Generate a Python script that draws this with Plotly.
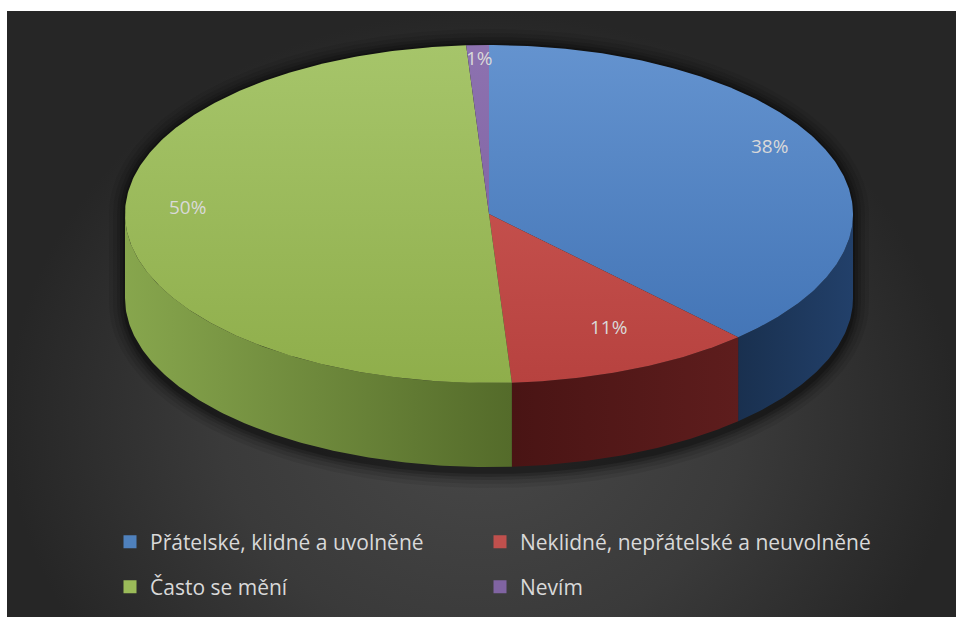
import numpy as np
import plotly.graph_objects as go

# ---- data ----
categories = ["Přátelské, klidné a uvolněné",
              "Neklidné, nepřátelské a neuvolněné",
              "Často se mění",
              "Nevím"]
values = [38, 11, 50, 1]

# face colours per slice: top (light, dark), side wall (light, dark), legend swatch
top_colors = [("#6493cf", "#3f71b3"), ("#d05c58", "#b7423f"),
              ("#a6c56a", "#8fae4b"), ("#8d72b0", "#7a5c9c")]
side_colors = [("#22406a", "#19304f"), ("#5e1d1d", "#491414"),
               ("#87a64d", "#546b2a"), ("#4a3560", "#3a2a4c")]
swatch_colors = ["#4f81bd", "#c0504d", "#9bbb59", "#8064a2"]
text_color = "#d9d9d9"
font_family = "'Open Sans', 'Noto Sans', sans-serif"

W, H = 956, 617

# ---- projected disc geometry (screen pixels, y grows downward) ----
CX, CY, RX, RY, DEPTH = 489.0, 214.0, 364.0, 169.0, 84.0


def rim(theta_deg, r=1.0, dz=0.0, grow=0.0):
    t = np.radians(theta_deg)
    x = CX + (RX * r + grow) * np.sin(t)
    y = CY - (RY * r + grow) * np.cos(t) + dz
    return x, y


def arc(t0, t1, dz=0.0, grow=0.0, n=None):
    if n is None:
        n = max(4, int(abs(t1 - t0) * 1.5))
    th = np.linspace(t0, t1, n)
    return rim(th, dz=dz, grow=grow)


total = float(sum(values))
shares = [v / total for v in values]
bounds = np.concatenate([[0.0], np.cumsum(shares) * 360.0])

fig = go.Figure()

# background panel with a soft radial light
fig.add_trace(go.Scatter(
    x=[7, W, W, 7, 7], y=[11, 11, H + 210, H + 210, 11],
    mode="lines", line=dict(width=0), fill="toself",
    fillgradient=dict(type="radial",
                      colorscale=[[0, "#484848"], [0.55, "#3a3a3a"], [1, "#262626"]]),
    hoverinfo="skip", showlegend=False))

# soft drop shadow under the disc
for k, op in [(16, 0.07), (12, 0.09), (8, 0.12), (5, 0.16), (2, 0.22)]:
    bx, by = arc(270, 450, dz=0, grow=k)
    fx, fy = arc(90, 270, dz=DEPTH + 5, grow=k)
    fig.add_trace(go.Scatter(
        x=np.concatenate([bx, fx]), y=np.concatenate([by, fy]),
        mode="lines", line=dict(width=0), fill="toself",
        fillcolor=f"rgba(0,0,0,{op})", hoverinfo="skip", showlegend=False))

# outer walls of the slices facing the viewer (90..270 degrees)
for i in range(len(values)):
    lo, hi = max(bounds[i], 90.0), min(bounds[i + 1], 270.0)
    if hi <= lo:
        continue
    tx, ty = arc(lo, hi)
    bx, by = arc(hi, lo, dz=DEPTH)
    c_light, c_dark = side_colors[i]
    # walls on the left half get darker towards the front, on the right half lighter
    if (lo + hi) / 2 > 180:
        scale = [[0, c_light], [1, c_dark]]
    else:
        scale = [[0, c_dark], [1, c_light]]
    fig.add_trace(go.Scatter(
        x=np.concatenate([tx, bx, tx[:1]]), y=np.concatenate([ty, by, ty[:1]]),
        mode="lines", line=dict(width=0), fill="toself",
        fillgradient=dict(type="horizontal", colorscale=scale),
        hoverinfo="skip", showlegend=False))

# top faces of the slices
for i in range(len(values)):
    ax_, ay_ = arc(bounds[i], bounds[i + 1])
    c_light, c_dark = top_colors[i]
    fig.add_trace(go.Scatter(
        x=np.concatenate([[CX], ax_, [CX]]), y=np.concatenate([[CY], ay_, [CY]]),
        mode="lines", line=dict(width=0), fill="toself",
        fillgradient=dict(type="vertical", start=CY - RY, stop=CY + RY,
                          colorscale=[[0, c_light], [1, c_dark]]),
        hoverinfo="skip", showlegend=False))

# percentage labels on the top faces
for i, v in enumerate(values):
    mid = (bounds[i] + bounds[i + 1]) / 2
    lx, ly = rim(mid, r=0.83)
    fig.add_annotation(x=float(lx), y=float(ly) - 16, text=f"{round(shares[i] * 100)}%",
                       showarrow=False, xref="x", yref="y",
                       font=dict(family=font_family, size=19, color=text_color))

# legend: one single-entry legend per cell of a 2 x 2 grid
legend_ids = ["legend", "legend2", "legend3", "legend4"]
legend_cells = [(110, 542), (480, 542), (110, 587), (480, 587)]
for i, name in enumerate(categories):
    fig.add_trace(go.Scatter(
        x=[None], y=[None], mode="markers", name=name,
        marker=dict(symbol="square", size=13, color=swatch_colors[i]),
        legend=legend_ids[i]))

legend_layout = {}
for lid, (lx, ly) in zip(legend_ids, legend_cells):
    legend_layout[lid] = dict(
        x=lx / W, y=1 - ly / H, xanchor="left", yanchor="middle",
        bgcolor="rgba(0,0,0,0)", borderwidth=0,
        font=dict(family=font_family, size=21, color=text_color))

fig.update_layout(
    width=W, height=H,
    margin=dict(l=0, r=0, t=0, b=0),
    paper_bgcolor="white", plot_bgcolor="white",
    xaxis=dict(range=[0, W], visible=False, fixedrange=True),
    yaxis=dict(range=[H, 0], visible=False, fixedrange=True),
    showlegend=True,
    **legend_layout,
)

fig.write_html("out.html")
